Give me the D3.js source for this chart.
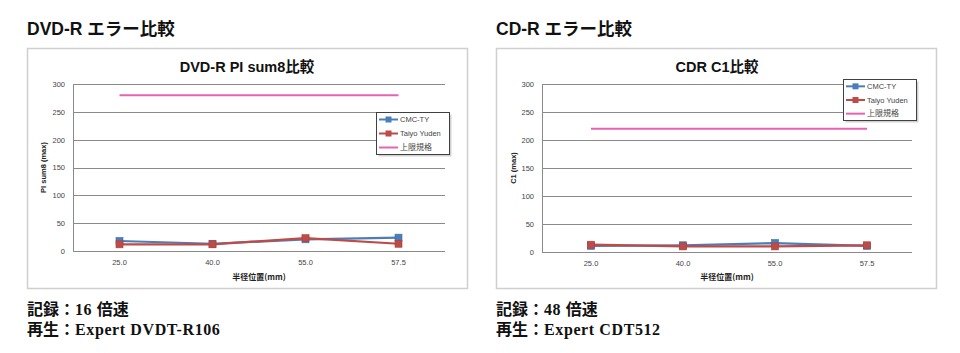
<!DOCTYPE html>
<html><head><meta charset="utf-8">
<script src="https://cdn.jsdelivr.net/npm/d3@7"></script>
<style>
body{margin:0;background:#fff;}
svg{display:block;}
</style></head>
<body>
<svg id="c" width="960" height="353"></svg>
<script>
// ---- data ----
const categories = ["25.0", "40.0", "55.0", "57.5"];
const yTicks = [0, 50, 100, 150, 200, 250, 300];
const seriesNames = ["CMC-TY", "Taiyo Yuden", "上限規格"];
const dvdCmc = [18, 13, 21, 24];
const dvdTaiyo = [12, 12, 23, 13];
const dvdLimit = [280, 280, 280, 280];
const cdCmc = [11, 12, 16, 11];
const cdTaiyo = [13, 10, 10, 12];
const cdLimit = [220, 220, 220, 220];
const headings = ["DVD-R エラー比較", "CD-R エラー比較"];
const chartTitles = ["DVD-R PI sum8比較", "CDR C1比較"];
const yTitles = ["PI sum8 (max)", "C1 (max)"];
const xTitle = "半径位置(mm)";
// notes: [jp prefix, latin, jp suffix]
const notesDvd = [["記録：", "16 ", "倍速"], ["再生：", "Expert DVDT-R106", ""]];
const notesCd = [["記録：", "48 ", "倍速"], ["再生：", "Expert CDT512", ""]];

const colors = ["#4A7EBB", "#BE4B48", "#E862B4"];
const svg = d3.select("#c");

function drawChart(cfg) {
  const g = svg.append("g");
  // heading
  g.append("text").attr("x", cfg.box[0]).attr("y", 35)
    .attr("font-family", "Liberation Sans, Noto Sans CJK JP, sans-serif")
    .attr("font-weight", "bold").attr("font-size", 17.5).attr("fill", "#111")
    .text(cfg.heading);
  // chart box
  g.append("rect").attr("x", cfg.box[0] + 0.5).attr("y", cfg.box[1] + 0.5)
    .attr("width", cfg.box[2] - cfg.box[0]).attr("height", cfg.box[3] - cfg.box[1])
    .attr("fill", "#fff").attr("stroke", "#cfcfcf").attr("stroke-width", 1.5);

  const y = d3.scaleLinear().domain([0, 300]).range([cfg.plot[3], cfg.plot[1]]);
  const x = d3.scaleBand().domain(categories).range(cfg.band);
  const xc = d => x(d) + x.bandwidth() / 2;

  // gridlines
  g.append("g").selectAll("line").data(yTicks).join("line")
    .attr("x1", cfg.plot[0]).attr("x2", cfg.plot[2])
    .attr("y1", d => Math.round(y(d)) + 0.5).attr("y2", d => Math.round(y(d)) + 0.5)
    .attr("stroke", "#8a8a8a").attr("stroke-width", 1);
  // vertical axis line
  g.append("line").attr("x1", cfg.plot[0] + 0.5).attr("x2", cfg.plot[0] + 0.5)
    .attr("y1", y(300)).attr("y2", y(0)).attr("stroke", "#8a8a8a");

  // y tick labels
  const yAxis = d3.axisLeft(y).tickValues(yTicks).tickSize(0).tickPadding(8);
  const ya = g.append("g").attr("transform", `translate(${cfg.plot[0]},0)`).call(yAxis);
  ya.select(".domain").remove();
  ya.selectAll("text").attr("font-family", "Liberation Sans, sans-serif").attr("font-size", 7.5).attr("fill", "#444");

  // x tick labels
  const xAxis = d3.axisBottom(x).tickSize(0).tickPadding(9);
  const xa = g.append("g").attr("transform", `translate(0,${cfg.plot[3]})`).call(xAxis);
  xa.select(".domain").remove();
  xa.selectAll("text").attr("font-family", "Liberation Sans, sans-serif").attr("font-size", 7.5).attr("fill", "#444");

  // titles
  g.append("text").attr("x", cfg.titleX).attr("y", 72).attr("text-anchor", "middle")
    .attr("font-family", "Liberation Sans, Noto Sans CJK JP, sans-serif")
    .attr("font-weight", "bold").attr("font-size", 14.5).attr("fill", "#111").text(cfg.title);
  g.append("text").attr("transform", `translate(${cfg.yTitleX},${(cfg.plot[1] + cfg.plot[3]) / 2}) rotate(-90)`)
    .attr("text-anchor", "middle").attr("dy", "0.35em")
    .attr("font-family", "Liberation Sans, Noto Sans CJK JP, sans-serif")
    .attr("font-weight", "bold").attr("font-size", 7.5).attr("fill", "#222").text(cfg.yTitle);
  g.append("text").attr("x", (cfg.plot[0] + cfg.plot[2]) / 2).attr("y", 280).attr("text-anchor", "middle")
    .attr("font-family", "Noto Sans CJK JP, Liberation Sans, sans-serif")
    .attr("font-weight", "bold").attr("font-size", 8).attr("fill", "#222").text(xTitle);

  // series
  const line = d3.line().x((d, i) => xc(categories[i])).y(d => y(d));
  const series = [cfg.cmc, cfg.taiyo, cfg.limit];
  series.forEach((s, si) => {
    g.append("path").datum(s).attr("d", line).attr("fill", "none")
      .attr("stroke", colors[si]).attr("stroke-width", si === 2 ? 2 : 2.2);
    if (si < 2) {
      g.append("g").selectAll("rect").data(s).join("rect")
        .attr("x", (d, i) => xc(categories[i]) - 3.5).attr("y", d => y(d) - 3.5)
        .attr("width", 7).attr("height", 7).attr("fill", colors[si])
        .attr("stroke", d3.color(colors[si]).darker(0.4)).attr("stroke-width", 0.6);
    }
  });

  // legend
  const L = cfg.legend; // x,y,w,h
  g.append("rect").attr("x", L[0] + 2.5).attr("y", L[1] + 2.5).attr("width", L[2]).attr("height", L[3])
    .attr("fill", "#bdbdbd").attr("opacity", 0.7);
  g.append("rect").attr("x", L[0] + 0.5).attr("y", L[1] + 0.5).attr("width", L[2]).attr("height", L[3])
    .attr("fill", "#fff").attr("stroke", "#404040").attr("stroke-width", 1);
  const step = L[3] / 3;
  seriesNames.forEach((n, i) => {
    const cy = L[1] + step * (i + 0.5) + 0.5;
    g.append("line").attr("x1", L[0] + 3).attr("x2", L[0] + 22).attr("y1", cy).attr("y2", cy)
      .attr("stroke", colors[i]).attr("stroke-width", 2);
    if (i < 2) g.append("rect").attr("x", L[0] + 9.5).attr("y", cy - 3).attr("width", 6).attr("height", 6)
      .attr("fill", colors[i]);
    g.append("text").attr("x", L[0] + 24).attr("y", cy).attr("dy", "0.35em")
      .attr("font-family", "Liberation Sans, Noto Sans CJK JP, sans-serif")
      .attr("font-size", i === 2 ? 8 : 7.5).attr("fill", "#444").text(n);
  });

  // notes
  cfg.notes.forEach((t, i) => {
    const tx = g.append("text").attr("x", cfg.box[0]).attr("y", 315 + i * 20)
      .attr("font-family", "Liberation Serif, Noto Sans CJK JP, serif")
      .attr("font-weight", "bold").attr("font-size", 16).attr("fill", "#111");
    tx.append("tspan").text(t[0]);
    tx.append("tspan").attr("letter-spacing", 0.6).text(t[1]);
    if (t[2]) tx.append("tspan").text(t[2]);
  });
}

drawChart({
  heading: headings[0], title: chartTitles[0], yTitle: yTitles[0],
  box: [27, 48, 467, 288], plot: [73, 84, 445, 251], band: [73, 445],
  titleX: 247, yTitleX: 43, legend: [376, 112, 73, 42],
  cmc: dvdCmc, taiyo: dvdTaiyo, limit: dvdLimit, notes: notesDvd
});
drawChart({
  heading: headings[1], title: chartTitles[1], yTitle: yTitles[1],
  box: [496, 48, 936, 288], plot: [542, 84, 912, 252], band: [545, 913],
  titleX: 717, yTitleX: 513, legend: [843, 79, 73, 41],
  cmc: cdCmc, taiyo: cdTaiyo, limit: cdLimit, notes: notesCd
});
</script>
</body></html>
